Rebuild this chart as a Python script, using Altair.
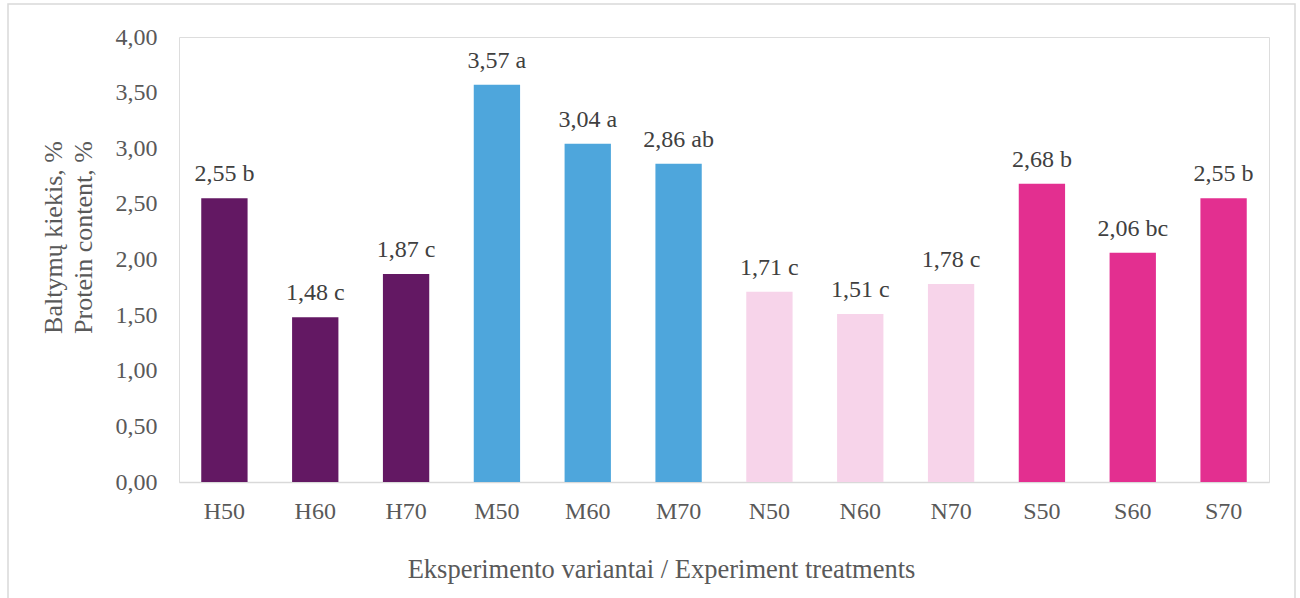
import altair as alt
import pandas as pd

treatments = ["H50", "H60", "H70", "M50", "M60", "M70", "N50", "N60", "N70", "S50", "S60", "S70"]
values = [2.55, 1.48, 1.87, 3.57, 3.04, 2.86, 1.71, 1.51, 1.78, 2.68, 2.06, 2.55]
letters = ["b", "c", "c", "a", "a", "ab", "c", "c", "c", "b", "bc", "b"]
groups = ["H", "H", "H", "M", "M", "M", "N", "N", "N", "S", "S", "S"]
group_colors = ["#631863", "#4EA6DC", "#F7D4EA", "#E32F90"]

df = pd.DataFrame({"t": treatments, "v": values, "g": groups,
                   "lab": [f"{v:.2f}".replace(".", ",") + " " + l for v, l in zip(values, letters)]})

FONT = "Liberation Serif"

base = alt.Chart(df).encode(
    x=alt.X("t:N", sort=treatments,
            scale=alt.Scale(paddingInner=0.49, paddingOuter=0.245),
            axis=alt.Axis(title="Eksperimento variantai / Experiment treatments",
                          labelAngle=0, ticks=False, domainColor="#d9d9d9", domainWidth=1.5,
                          labelPadding=17, labelFont=FONT, labelFontSize=24, labelColor="#595959",
                          titleFont=FONT, titleFontSize=26.5, titleColor="#595959",
                          titleFontWeight="normal", titleX=482, titleY=95,
                          titleAlign="center", titleBaseline="alphabetic")),
)

bars = base.mark_bar().encode(
    y=alt.Y("v:Q", scale=alt.Scale(domain=[0, 4]),
            axis=alt.Axis(title=["Baltymų kiekis, %", "Protein content, %"],
                          values=[0, 0.5, 1, 1.5, 2, 2.5, 3, 3.5, 4],
                          labelExpr="replace(format(datum.value, '.2f'), '.', ',')",
                          grid=False, domain=False, ticks=False, labelPadding=22,
                          labelFont=FONT, labelFontSize=24, labelColor="#595959",
                          titleFont=FONT, titleFontSize=26, titleColor="#595959",
                          titleFontWeight="normal", titleX=-126, titleY=200,
                          titleAlign="center", titleBaseline="middle", titleLineHeight=30)),
    color=alt.Color("g:N", scale=alt.Scale(domain=["H", "M", "N", "S"], range=group_colors), legend=None),
)

labels = base.mark_text(font=FONT, fontSize=24, color="#404040", baseline="alphabetic", dy=-17).encode(
    y="v:Q", text="lab:N")

border = alt.Chart(pd.DataFrame({"a": [0]})).mark_rect(
    fill=None, stroke="#d9d9d9", strokeWidth=1.5, clip=False).encode(
    x=alt.value(-171), x2=alt.value(1116), y=alt.value(-33), y2=alt.value(566))

chart = alt.layer(border, bars, labels).properties(
    width=1090, height=445,
    autosize=alt.AutoSizeParams(type="none"),
    padding={"left": 179, "top": 37, "right": 31, "bottom": 116},
).configure_view(stroke=None).configure(background="white")

chart.save("out.html", embed_options={"renderer": "svg", "actions": False})
